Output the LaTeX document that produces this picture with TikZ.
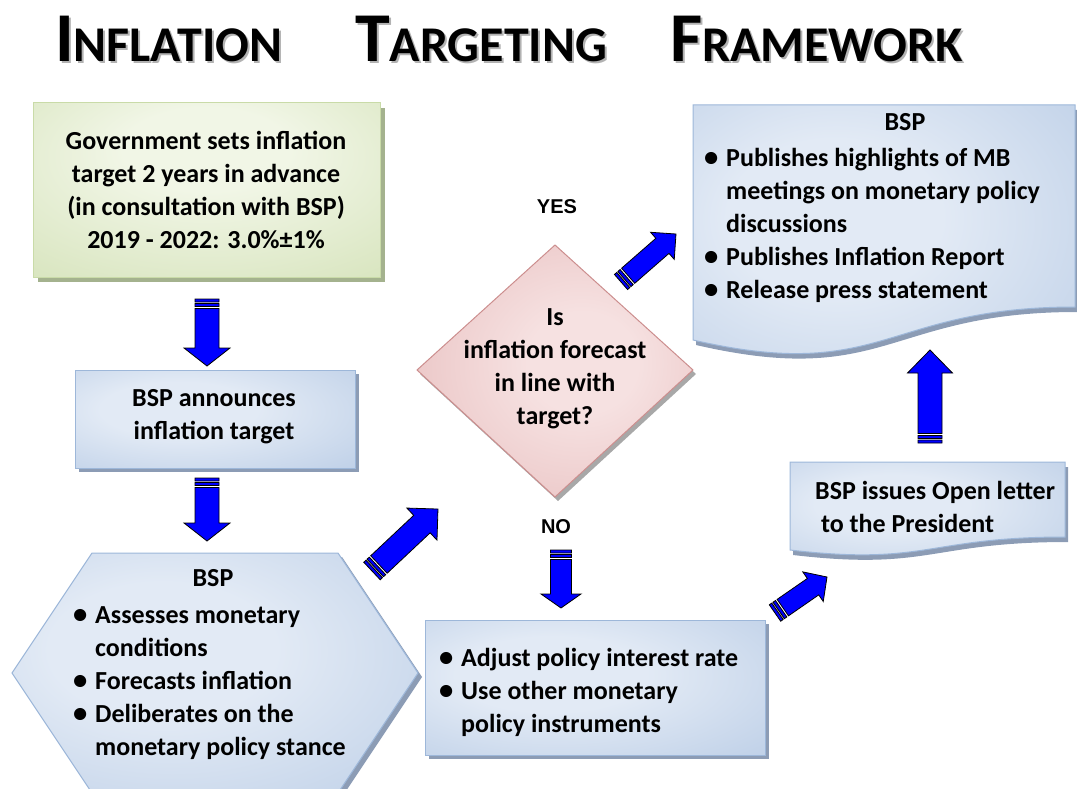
\documentclass[tikz,border=0pt]{standalone}
\usepackage{fontspec}
\usepackage{graphicx}
\setmainfont{Carlito}
\newfontfamily\yesnofont{Liberation Sans}
\usetikzlibrary{calc}
\definecolor{ablue}{RGB}{0,0,255}
\definecolor{bL}{HTML}{E2EAF5}
\definecolor{bD}{HTML}{93B0D7}
\definecolor{bB}{HTML}{9DB7D9}
\definecolor{gL}{HTML}{F1F6E6}
\definecolor{gD}{HTML}{BDD294}
\definecolor{gB}{HTML}{C9DBA8}
\definecolor{pL}{HTML}{F6E1E1}
\definecolor{pD}{HTML}{DA9E9E}
\definecolor{pB}{HTML}{CC8E8E}
\definecolor{shB}{HTML}{8C9CB5}
\definecolor{shG}{HTML}{A4B28E}
\definecolor{shP}{HTML}{A8A8A8}
\pgfdeclareradialshading{bshade}{\pgfpoint{-8bp}{6bp}}{color(0bp)=(bL); color(14bp)=(bL); color(74bp)=(bD)}
\pgfdeclareradialshading{gshade}{\pgfpoint{0bp}{14bp}}{color(0bp)=(gL); color(12bp)=(gL); color(72bp)=(gD)}
\pgfdeclareradialshading{pshade}{\pgfpoint{6bp}{2bp}}{color(0bp)=(pL); color(10bp)=(pL); color(62bp)=(pD)}
\newcommand\bul{\makebox[22pt][l]{\scalebox{1.1}{\textbullet}}}
\newcommand\ind{\hspace*{22pt}}
\newcommand\tbig{\fontsize{70}{70}\selectfont}
\newcommand\tsml{\fontsize{50}{50}\selectfont}
% block arrow: tail, tip, shaft half width, head half width, head length
\newcommand\barrow[5]{%
  \path[blockarrow] let \p1=(#1), \p2=(#2),
    \n1={atan2(\y2-\y1,\x2-\x1)}, \n2={veclen(\x2-\x1,\y2-\y1)} in
    [shift={(\p1)}, rotate=\n1]
    (0pt,-#3pt) -- (3pt,-#3pt) -- (3pt,#3pt) -- (0pt,#3pt) -- cycle
    (4.5pt,-#3pt) -- (7.5pt,-#3pt) -- (7.5pt,#3pt) -- (4.5pt,#3pt) -- cycle
    (9.5pt,-#3pt) -- ({\n2*1pt-#5pt},-#3pt) -- ({\n2*1pt-#5pt},-#4pt)
    -- ({\n2*1pt},0pt) -- ({\n2*1pt-#5pt},#4pt) -- ({\n2*1pt-#5pt},#3pt)
    -- (9.5pt,#3pt) -- cycle;}
\begin{document}
\begin{tikzpicture}[x=1pt,y=-1pt,
  body/.style={font=\bfseries\fontsize{26}{33}\selectfont, inner sep=0pt},
  ttl/.style={font=\bfseries, inner sep=0pt, anchor=base west},
  ttlsh/.style={ttl, text=black!30},
  bluebox/.style={draw=bB, line width=1pt, shading=bshade},
  blueshadow/.style={fill=shB},
  blockarrow/.style={fill=ablue, draw=black, line width=0.8pt, line join=miter},
  yesno/.style={font=\yesnofont\bfseries\fontsize{20}{20}\selectfont, inner sep=0pt}]
\useasboundingbox (0,0) rectangle (1077,789);

% ---------- title ----------
\foreach \px/\a/\b/\nm in {55/I/NFLATION/ti, 355/T/ARGETING/tt, 670/F/RAMEWORK/tf}{
  \node[ttlsh] (\nm s) at (\px+2,64) {\tbig\a\tsml\b};
  \node[ttl] (\nm) at (\px,62) {\tbig\a\tsml\b};
}

% ---------- green box ----------
\fill[shG] (38,108) rectangle (385,282);
\path[draw=gB, line width=1pt, shading=gshade] (33,103) rectangle (380,277);
\node[body, align=center] (gov) at (206,190)
  {Government sets inflation\\target 2 years in advance\\(in consultation with BSP)\\2019 - 2022: 3.0\%±1\%};

% ---------- BSP announces ----------
\fill[blueshadow] (79,374) rectangle (359,472);
\path[bluebox] (75,370) rectangle (355,468);
\node[body, align=center] (ann) at (214,417) {BSP announces\\inflation target};

% ---------- hexagon ----------
\fill[blueshadow] (96,557) -- (342,557) -- (422,677) -- (342,797) -- (96,797) -- (16,677) -- cycle;
\path[bluebox] (92,553) -- (338,553) -- (418,673) -- (338,793) -- (92,793) -- (12,673) -- cycle;
\node[body] (hexh) at (213,578) {BSP};
\node[body, align=left, anchor=base west] (hexl) at (73,755)
  {\bul Assesses monetary\\\ind conditions\\\bul Forecasts inflation\\\bul Deliberates on the\\\ind monetary policy stance};

% ---------- diamond ----------
\fill[shP] (558,249) -- (696,374) -- (558,501) -- (420,374) -- cycle;
\path[draw=pB, line width=1pt, shading=pshade]
  (555,245) -- (693,370) -- (555,497) -- (417,370) -- cycle;
\node[body, align=center] (dia) at (555,369) {Is\\inflation forecast\\in line with\\target?};
\node[yesno] (yes) at (557,207) {YES};
\node[yesno] (no) at (556,527) {NO};

% ---------- policy box ----------
\fill[blueshadow] (429,624) rectangle (769,759);
\path[bluebox] (425,620) rectangle (765,755);
\node[body, align=left, anchor=base west] (pol) at (439,732)
  {\bul Adjust policy interest rate\\\bul Use other monetary\\\ind policy instruments};

% ---------- open letter ----------
\fill[blueshadow] (793,467) -- (1068,467) -- (1068,542) .. controls (930,542) and (930,571) .. (793,555) -- cycle;
\path[bluebox] (790,462) -- (1065,462) -- (1065,537) .. controls (927,537) and (927,566) .. (790,550) -- cycle;
\node[body, align=left, anchor=base west] (open) at (815,532) {BSP issues Open letter\\\ to the President};

% ---------- publish box ----------
\fill[blueshadow] (696,110) -- (1077,110) -- (1077,312) .. controls (887,312) and (887,389) .. (696,345) -- cycle;
\path[bluebox] (693,105) -- (1075,105) -- (1075,307) .. controls (884,307) and (884,384) .. (693,340) -- cycle;
\node[body] (pubh) at (905,122) {BSP};
\node[body, align=left, anchor=base west] (publ) at (704,298)
  {\bul Publishes highlights of MB\\\ind meetings on monetary policy\\\ind discussions\\\bul Publishes Inflation Report\\\bul Release press statement};

% ---------- arrows ----------
\coordinate (a1s) at (207,299);  \coordinate (a1e) at (207,366);
\coordinate (a2s) at (207,478);  \coordinate (a2e) at (207,541);
\coordinate (a3s) at (372,571);  \coordinate (a3e) at (438,509);
\coordinate (a4s) at (621,282);  \coordinate (a4e) at (676,234);
\coordinate (a5s) at (561,550);  \coordinate (a5e) at (561,608);
\coordinate (a6s) at (775,613);  \coordinate (a6e) at (827,577);
\coordinate (a7s) at (930,443);  \coordinate (a7e) at (930,350);
\barrow{a1s}{a1e}{12}{23}{18}
\barrow{a2s}{a2e}{12}{23}{18}
\barrow{a3s}{a3e}{12}{22}{22}
\barrow{a4s}{a4e}{10}{18}{18}
\barrow{a5s}{a5e}{10.5}{20}{14}
\barrow{a6s}{a6e}{10}{18}{17}
\barrow{a7s}{a7e}{12}{22.5}{23}
\end{tikzpicture}
\end{document}
